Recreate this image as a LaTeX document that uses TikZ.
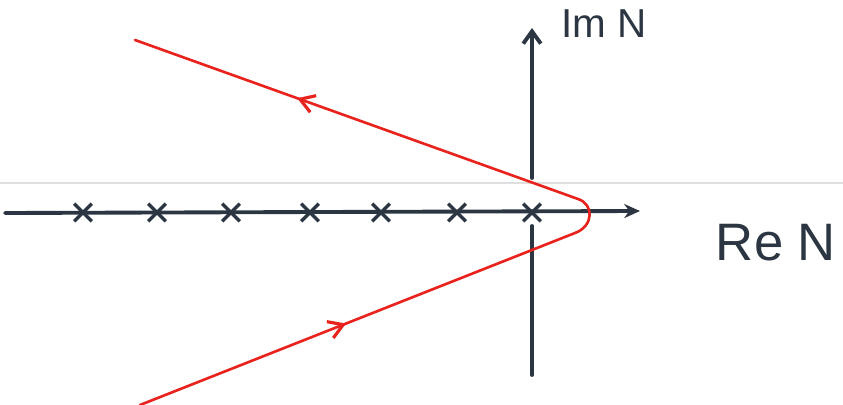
\documentclass[tikz,border=0pt]{standalone}
\usepackage{fontspec}
\setmainfont{Liberation Sans}
\definecolor{axisgrey}{RGB}{43, 54, 66}
\definecolor{pathred}{RGB}{232, 35, 30}
\usepackage{tikz}
\usetikzlibrary{
  arrows.meta,
  positioning,
  shapes.misc,
  decorations.markings
}
\tikzset{
  axisline/.style={draw=axisgrey, line width=2.2pt, line cap=round},
  polemark/.style={cross out, draw=axisgrey, line width=2pt, minimum size=8pt, inner sep=0pt},
  contour/.style={draw=pathred, line width=1.5pt, line cap=round,
    postaction={decorate},
    decoration={markings,
      mark=at position 0.225 with {\arrow{Straight Barb[length=8pt, width=10pt, line width=1.8pt]}},
      mark=at position 0.825 with {\arrow{Straight Barb[length=8pt, width=10pt, line width=1.8pt]}}}},
  axislabel/.style={text=axisgrey, inner sep=0pt}
}

\begin{document}
\begin{tikzpicture}[x=0.02cm, y=-0.02cm]
\useasboundingbox (0,0) rectangle (843,405);
% scan edge
\draw[gray!25, line width=0.6pt] (0,183) -- (843,183);

% axes
\coordinate (reL) at (5,213);
\coordinate (reR) at (640,211);
\coordinate (imTop) at (532,28);
\coordinate (imUp) at (532,178);
\coordinate (imLow) at (532,226);
\coordinate (imBot) at (532,375);
\draw[axisline, -{Stealth[length=9pt, width=8pt]}] (reL) -- (reR);
\draw[axisline, -{Straight Barb[length=7pt, width=10pt]}] (imUp) -- (imTop);
\draw[axisline] (imLow) -- (imBot);

% poles on the real axis
\foreach \i/\x in {1/83, 2/157, 3/231, 4/310, 5/381, 6/457, 7/532}
  \node[polemark] (p\i) at (\x,212.5) {};

\node[axislabel, font=\fontsize{23}{23}\selectfont] (imlab) at (604,24) {Im N};
\node[axislabel, font=\fontsize{30}{30}\selectfont] (relab) at (776,243) {Re N};

% contour
\coordinate (cE) at (140,405);
\coordinate (cD) at (575,233);
\coordinate (cB) at (578,199);
\coordinate (cA) at (135,40);
\draw[contour] (cE) -- (cD) .. controls (594,226) and (594,204) .. (cB) -- (cA);
\end{tikzpicture}
\end{document}
